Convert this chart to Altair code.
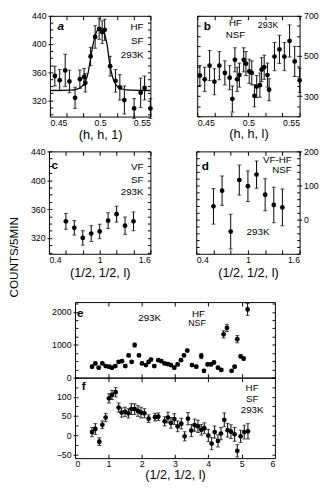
import altair as alt
import pandas as pd

# ---------------- data ----------------
# panel a  (h, h, 1)  HF SF 293K
a_x = [0.4549, 0.4597, 0.4652, 0.4694, 0.4750, 0.4798, 0.4840, 0.4852, 0.4905, 0.4950, 0.4990,
       0.5020, 0.5045, 0.5099, 0.5153, 0.5196, 0.5241, 0.5338, 0.5403, 0.5442, 0.5500]
a_y = [354.6, 348.7, 362.5, 346.9, 323.7, 350, 353.2, 344.9, 382.3, 410, 421.6,
       416.9, 420.2, 368.5, 347.7, 338.5, 320.5, 308.5, 330.7, 337.6, 308.5]
a_e = [14, 15, 23, 16, 15, 13, 12, 13, 13, 16, 15, 16, 15, 14, 16, 18, 20, 14, 21, 17, 14]
fit_x = [0.45, 0.47, 0.477, 0.481, 0.485, 0.488, 0.4905, 0.493, 0.4955, 0.498, 0.5, 0.502,
         0.5045, 0.507, 0.5095, 0.512, 0.515, 0.519, 0.523, 0.53, 0.55]
fit_y = [334, 334.5, 336, 339, 346, 359, 380, 400, 414, 421, 423, 421,
         414, 398, 372, 355, 344, 338, 335.5, 334.5, 334]

# panel b  (h, h, l)  HF NSF 293K
b_x = [0.4526, 0.4573, 0.4621, 0.4668, 0.4716, 0.4770, 0.4817, 0.4843, 0.4868, 0.4890, 0.4912,
       0.4954, 0.4976, 0.5008, 0.5033, 0.5059, 0.5081, 0.5112, 0.5129, 0.5154, 0.5186, 0.5202,
       0.5255, 0.5303, 0.5351, 0.5402, 0.5452, 0.5500]
b_y = [403, 384, 452, 372, 452, 416, 392, 286, 481, 384, 405, 481, 462, 424, 416, 302, 348,
       355, 432, 444, 405, 332, 497, 533, 497, 575, 473, 379]
b_e = [50, 60, 75, 65, 70, 60, 60, 65, 60, 60, 60, 60, 60, 60, 60, 55, 55, 60, 60, 60, 60,
       55, 70, 70, 70, 80, 75, 60]

# panel c  (1/2, 1/2, l)  VF SF 293K
c_x = [0.6, 0.7, 0.8, 0.9, 1.0, 1.1, 1.2, 1.3, 1.4]
c_y = [343, 334, 320, 326, 329, 344, 353, 337, 343]
c_e = [11, 10, 10, 11, 10, 11, 11, 12, 13]

# panel d  (1/2, 1/2, l)  VF-HF NSF 293K
d_x = [0.6, 0.7, 0.8, 0.9, 1.0, 1.1, 1.2, 1.3, 1.4]
d_y = [39, 85, -35, 116, 98, 132, 73, 43, 36]
d_e = [52, 43, 51, 44, 45, 40, 47, 52, 54]

# panel e  HF NSF 293K
e_x = [0.51, 0.61, 0.71, 0.82, 0.92, 1.02, 1.11, 1.21, 1.31, 1.41, 1.51, 1.61, 1.70, 1.79,
       1.92, 2.01, 2.13, 2.21, 2.28, 2.38, 2.50, 2.59, 2.69, 2.79, 2.88, 2.98, 3.08, 3.18,
       3.27, 3.37, 3.51, 3.64, 3.79, 3.87, 3.98, 4.08, 4.17, 4.29, 4.39, 4.46, 4.56, 4.70,
       4.79, 4.87, 4.97, 5.06, 5.18]
e_y = [334, 433, 305, 433, 354, 334, 305, 354, 482, 500, 354, 678, 482, 993, 678, 433, 383,
       482, 551, 354, 531, 500, 433, 413, 383, 305, 403, 531, 678, 826, 383, 334, 659, 207,
       403, 403, 462, 305, 236, 1318, 1514, 207, 334, 1171, 649, 581, 2075]
e_e = [40] * 13 + [60] + [40] * 18 + [80] + [40] * 6 + [110, 110, 40, 40, 110, 50, 50, 180]

# panel f  HF SF 293K
f_x = [0.51, 0.61, 0.73, 0.82, 0.92, 1.02, 1.11, 1.22, 1.31, 1.40, 1.50, 1.60, 1.69, 1.79,
       1.89, 1.98, 2.08, 2.21, 2.40, 2.50, 2.69, 2.79, 2.88, 2.98, 3.08, 3.19, 3.29, 3.39,
       3.49, 3.59, 3.69, 3.79, 3.88, 4.00, 4.10, 4.19, 4.29, 4.38, 4.48, 4.58, 4.68, 4.79,
       4.87, 4.97, 5.08, 5.19]
f_y = [8, 16, -17, 27, 46, 96, 105, 112, 72, 59, 61, 57, 68, 68, 63, 59, 57, 43, 47, 48, 36,
       46, 32, 42, 23, 30, -3, 43, 12, 26, 23, 14, 18, -1, -22, 8, -15, 4, 40, 13, 9, 2, -41,
       -3, 8, 10]
f_e = [12, 14, 10, 10, 11, 12, 12, 12, 12, 12, 12, 12, 14, 14, 14, 14, 12, 10, 10, 10, 12,
       14, 14, 14, 14, 14, 12, 16, 16, 16, 16, 14, 14, 16, 16, 16, 16, 16, 18, 18, 18, 18,
       16, 16, 18, 20]

# ---------------- layout ----------------
W, H = 316, 476
FONT = "Liberation Sans"
TL = 3
FMT = ".6~g"


def sc(dom, rng):
    return alt.Scale(domain=dom, range=rng, nice=False, zero=False)


def frame(df_pts, p):
    xs = sc(p["xdom"], p["xr"])
    ys = sc(p["ydom"], p["yr"])
    x0, x1 = p["xr"]
    yb, yt = p["yr"]
    side = p["yorient"]
    other = "right" if side == "left" else "left"

    def yoff(orient, pos):
        return -pos if orient == "left" else pos - W

    def xoff(orient, pos):
        return pos - H if orient == "bottom" else -pos

    side_pos = x0 if side == "left" else x1
    oth_pos = x1 if side == "left" else x0
    side_in = x0 + TL if side == "left" else x1 - TL
    oth_in = x1 - TL if side == "left" else x0 + TL

    xkw = dict(labelFontSize=9, titleFontSize=13, titleFontWeight="normal",
               titleFont=FONT, labelFont=FONT, grid=False)
    xa_main = alt.Axis(orient="bottom", offset=xoff("bottom", yb), values=p["xlab"],
                       labels=p.get("xlabels", True), ticks=False, domain=True, format=FMT,
                       labelPadding=2, titlePadding=p.get("tpad", 1),
                       title=p["xtitle"] if p["xtitle"] else None, **xkw)
    xa_in = alt.Axis(orient="bottom", offset=xoff("bottom", yb - TL - 1), values=p["xtick"],
                     labels=False, ticks=True, tickSize=TL + 1, domain=False, title=None, grid=False)
    xa_top = alt.Axis(orient="top", offset=xoff("top", yt), values=p["xtick"], labels=False,
                      ticks=False, domain=True, title=None, grid=False)
    xa_topin = alt.Axis(orient="top", offset=xoff("top", yt + TL + 1), values=p["xtick"],
                        labels=False, ticks=True, tickSize=TL + 1, domain=False, title=None,
                        grid=False)

    ykw = dict(labelFontSize=9, labelFont=FONT, grid=False)
    ytitle = p.get("ytitle")
    if ytitle:
        ya_main = alt.Axis(orient=side, offset=yoff(side, side_pos), values=p["ylab"],
                           labels=True, ticks=True, tickSize=2, domain=True, format=FMT,
                           labelPadding=2, title=ytitle, titleAngle=270, titleX=13 - side_pos,
                           titleY=249, titleAlign="center", titleBaseline="bottom",
                           titleFontSize=12, titleFontWeight="normal", titleFont=FONT, **ykw)
    else:
        ya_main = alt.Axis(orient=side, offset=yoff(side, side_pos), values=p["ylab"],
                           labels=True, ticks=True, tickSize=2, domain=True, format=FMT,
                           labelPadding=2, title=None, **ykw)
    ya_in = alt.Axis(orient=side, offset=yoff(side, side_in), values=p["yminor"], labels=False,
                     ticks=True, tickSize=TL, domain=False, title=None, grid=False)
    ya_oth = alt.Axis(orient=other, offset=yoff(other, oth_pos), values=p["ylab"], labels=False,
                      ticks=False, domain=True, title=None, grid=False)
    ya_othin = alt.Axis(orient=other, offset=yoff(other, oth_in), values=p["yminor"],
                        labels=False, ticks=True, tickSize=TL, domain=False, title=None,
                        grid=False)

    base = alt.Chart(df_pts)
    layers = []
    layers.append(base.mark_rule(color="black", strokeWidth=1).encode(
        x=alt.X("x:Q", scale=xs, axis=xa_in),
        y=alt.Y("lo:Q", scale=ys, axis=ya_in), y2="hi:Q"))
    layers.append(base.mark_tick(orient="horizontal", size=4, thickness=1, color="black").encode(
        x=alt.X("x:Q", scale=xs, axis=xa_top),
        y=alt.Y("lo:Q", scale=ys, axis=ya_oth)))
    layers.append(base.mark_tick(orient="horizontal", size=4, thickness=1, color="black").encode(
        x=alt.X("x:Q", scale=xs, axis=xa_topin),
        y=alt.Y("hi:Q", scale=ys, axis=ya_othin)))
    layers.append(base.mark_circle(size=24, color="black", opacity=1).encode(
        x=alt.X("x:Q", scale=xs, axis=xa_main),
        y=alt.Y("y:Q", scale=ys, axis=ya_main)))

    # annotations (data coordinates of the panel)
    ann = pd.DataFrame(p["ann"], columns=["t", "x", "y", "align", "size"])
    for al in ann["align"].unique():
        for sz in ann["size"].unique():
            sub = ann[(ann["align"] == al) & (ann["size"] == sz)]
            if len(sub) == 0:
                continue
            layers.append(alt.Chart(sub).mark_text(align=al, baseline="middle", font=FONT,
                                                    fontSize=float(sz), color="black").encode(
                x=alt.X("x:Q", scale=xs, axis=None),
                y=alt.Y("y:Q", scale=ys, axis=None), text="t:N"))
    lab = pd.DataFrame([p["letter"]], columns=["t", "x", "y"])
    layers.append(alt.Chart(lab).mark_text(align="left", baseline="middle", font=FONT,
                                           fontSize=12, fontWeight="bold",
                                           fontStyle=p.get("lstyle", "normal"),
                                           color="black").encode(
        x=alt.X("x:Q", scale=xs, axis=None),
        y=alt.Y("y:Q", scale=ys, axis=None), text="t:N"))
    return layers, xs, ys


def mk(xv, yv, ev):
    return pd.DataFrame({"x": xv, "y": yv,
                         "lo": [y - e for y, e in zip(yv, ev)],
                         "hi": [y + e for y, e in zip(yv, ev)]})


ab_ticks = [0.45 + i * 0.1 / 6 for i in range(7)]
cd_ticks = [0.4, 0.6, 0.8, 1.0, 1.2, 1.4, 1.6]
ef_ticks = [0, 1, 2, 3, 4, 5, 6]
HALF = "(1/2,  1/2,  l)"

panels = [
    dict(df=mk(a_x, a_y, a_e), xdom=[0.45, 0.55], xr=[43, 146], ydom=[297, 440], yr=[105.3, 2],
         xlab=[0.45, 0.5, 0.55], xtick=ab_ticks, ylab=[320, 360, 400, 440],
         yminor=list(range(300, 441, 10)), yorient="left", xtitle="(h, h, 1)",
         letter=["a", 0.4575, 424.8], lstyle="italic",
         ann=[["HF", 0.5432, 424, "right", 10], ["SF", 0.5432, 404, "right", 10],
              ["293K", 0.5432, 384.6, "right", 10]]),
    dict(df=mk(b_x, b_y, b_e), xdom=[0.45, 0.55], xr=[194, 299], ydom=[200, 700], yr=[105, 2],
         xlab=[0.45, 0.5, 0.55], xtick=ab_ticks, ylab=[300, 500, 700],
         yminor=list(range(200, 701, 50)), yorient="right", xtitle="(h, h, l)",
         letter=["b", 0.4565, 646.6],
         ann=[["HF", 0.4874, 662.6, "center", 10], ["NSF", 0.4874, 602.9, "center", 10],
              ["293K", 0.5192, 656.3, "center", 9]]),
    dict(df=mk(c_x, c_y, c_e), xdom=[0.4, 1.6], xr=[42, 146], ydom=[298, 440], yr=[246, 141],
         xlab=[0.4, 1, 1.6], xtick=cd_ticks, ylab=[320, 360, 400, 440],
         yminor=list(range(300, 441, 10)), yorient="left", xtitle=HALF, tpad=2,
         ytitle="COUNTS/5MIN",
         letter=["c", 0.43, 420.7],
         ann=[["VF", 1.519, 418.4, "right", 10], ["SF", 1.519, 400.8, "right", 10],
              ["293K", 1.519, 383.2, "right", 10]]),
    dict(df=mk(d_x, d_y, d_e), xdom=[0.4, 1.6], xr=[193, 299], ydom=[-100, 200], yr=[246, 141],
         xlab=[0.4, 1, 1.6], xtick=cd_ticks, ylab=[0, 100, 200],
         yminor=list(range(-100, 201, 20)), yorient="right", xtitle=HALF, tpad=2,
         letter=["d", 0.465, 158],
         ann=[["VF-HF", 1.509, 174.3, "right", 10], ["NSF", 1.509, 145.7, "right", 10],
              ["293K", 1.117, -35, "center", 10]]),
    dict(df=mk(e_x, e_y, e_e), xdom=[0, 6], xr=[68.7, 273.7], ydom=[0, 2300], yr=[373, 295.5],
         xlab=ef_ticks, xlabels=False, xtick=ef_ticks[1:-1], ylab=[0, 1000, 2000],
         yminor=list(range(0, 2301, 250)), yorient="left", xtitle="",
         letter=["e", 0.06, 1968],
         ann=[["293K", 2.24, 1819, "center", 10], ["HF", 3.705, 1950, "center", 10],
              ["NSF", 3.66, 1653, "center", 9]]),
    dict(df=mk(f_x, f_y, f_e), xdom=[0, 6], xr=[68.7, 273.7], ydom=[-60, 150], yr=[455.5, 373],
         xlab=ef_ticks, xtick=ef_ticks[1:-1], ylab=[-50, 0, 50, 100],
         yminor=list(range(-50, 151, 25)), yorient="left", xtitle=HALF, tpad=0,
         letter=["f", 0.2, 127.9],
         ann=[["HF", 5.315, 122, "center", 10], ["SF", 5.315, 94, "center", 10],
              ["293K", 5.315, 66, "center", 10]]),
]

all_layers = []
for i, p in enumerate(panels):
    lay, xs, ys = frame(p["df"], p)
    all_layers += lay
    if i == 0:
        fit = pd.DataFrame({"x": fit_x, "y": fit_y})
        all_layers.append(alt.Chart(fit).mark_line(color="black", strokeWidth=1.3,
                                                   interpolate="monotone").encode(
            x=alt.X("x:Q", scale=xs, axis=None), y=alt.Y("y:Q", scale=ys, axis=None)))

chart = alt.layer(*all_layers).resolve_scale(
    x="independent", y="independent").resolve_axis(
    x="independent", y="independent").properties(
    width=W, height=H, autosize=alt.AutoSizeParams(type="none"),
    padding={"left": 0, "top": 0, "right": 8, "bottom": 0}).configure_view(
    stroke=None).configure_axis(domainColor="black", tickColor="black", labelColor="black",
                                titleColor="black", domainWidth=1, tickWidth=1)

chart.save("out.html", embed_options={"renderer": "svg", "actions": False})
